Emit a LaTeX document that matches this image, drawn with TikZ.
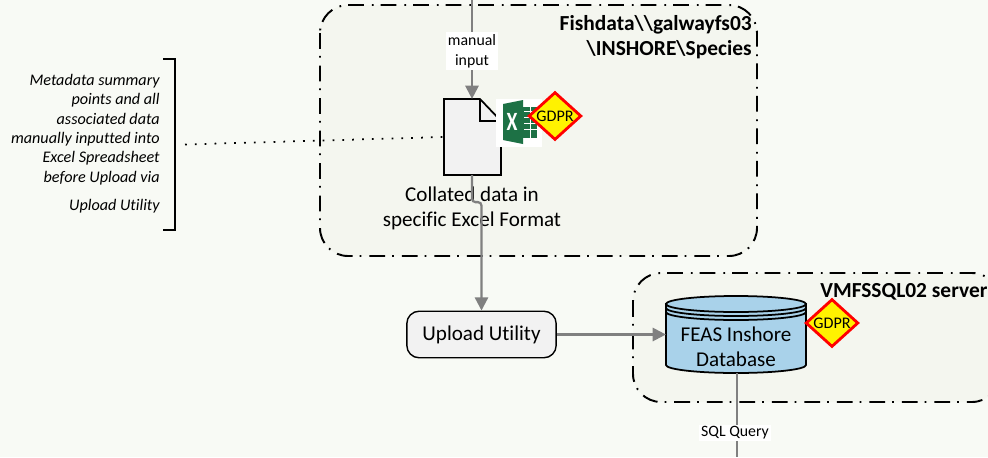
\documentclass[tikz,border=0pt]{standalone}
\usepackage{fontspec}
\setmainfont[Ligatures=NoCommon]{Carlito}
\usetikzlibrary{positioning,shapes.geometric,arrows.meta}
\definecolor{pagebg}{HTML}{F8FAF5}
\definecolor{groupbg}{HTML}{F4F6EF}
\definecolor{linegrey}{HTML}{808080}
\definecolor{paperfill}{HTML}{F2F2F2}
\definecolor{dbblue}{HTML}{A9D2EA}
\definecolor{xlgreen}{HTML}{1D7145}
\tikzset{
  flow/.style={draw=linegrey,line width=1.3pt,-{Triangle[length=7.5pt,width=7.5pt]}},
  plainflow/.style={draw=linegrey,line width=1.3pt},
  groupbox/.style={draw=black,line width=1.1pt,fill=groupbg,rounded corners=16pt,dash pattern=on 9pt off 4pt on 1pt off 4.5pt},
  gdpr/.style={diamond,draw=red,line width=1.6pt,fill=yellow,inner sep=0pt,minimum width=30pt,minimum height=22.5pt,font=\fontsize{9.2}{9}\selectfont},
  whitelabel/.style={fill=white,inner sep=1pt,align=center,font=\fontsize{9}{11.5}\selectfont},
  grouptitle/.style={font=\fontsize{12.2}{14}\selectfont\bfseries,align=right,inner sep=0pt},
}
\begin{document}
\begin{tikzpicture}[x=0.02cm,y=-0.02cm]
  % Page
  \fill[pagebg] (0,0) rectangle (988,457);
  \useasboundingbox (0,0) rectangle (988,457);

  % Groups
  \draw[groupbox] (320,5) rectangle (757,256);
  \draw[groupbox] (633,273) rectangle (1000,402);
  \node[grouptitle,anchor=north east] (fishtitle) at (752,15.5) {Fishdata\textbackslash\textbackslash galwayfs03\\\textbackslash INSHORE\textbackslash Species};
  \node[grouptitle,anchor=west] (servertitle) at (820,292) {VMFSSQL02 server};

  % Note on the left
  \draw[line width=1pt] (163,59) -- (175,59) -- (175,230) -- (163,230);
  \node[anchor=north east,align=right,inner sep=0pt,font=\fontsize{9.2}{11}\selectfont\itshape] (note) at (160,74)
    {Metadata summary\\points and all\\associated data\\manually inputted into\\Excel Spreadsheet\\before Upload via\\[5pt]Upload Utility};
  \coordinate (notelink) at (185,144.5);

  % Collated file
  \node[minimum width=32pt,minimum height=43pt,inner sep=0pt] (file) at (472,137) {};
  \draw[line width=1pt,fill=paperfill] (444,99) -- (480,99) -- (501,121) -- (501,175) -- (444,175) -- cycle;
  \draw[line width=1pt] (480,99) -- (480,121) -- (501,121);
  \node[align=center,inner sep=0pt,font=\fontsize{12}{14}\selectfont,below=6.7pt of file] (filetext) {Collated data in\\specific Excel Format};

  % Excel icon
  \fill[white] (496,99) rectangle (542,147);
  \fill[xlgreen] (503,104) -- (523,100) -- (523,144) -- (503,140) -- cycle;
  \fill[xlgreen] (523,107) rectangle (537,138);
  \foreach \y in {111,117,123,129} \draw[white,line width=0.5pt] (524,\y) -- (537,\y);
  \draw[white,line width=0.5pt] (530,107) -- (530,138);
  \node[white,font=\fontsize{15}{15}\selectfont\bfseries,inner sep=0pt,xscale=0.75,transform shape] (xlmark) at (512,122) {X};
  \node[gdpr] (filegdpr) at (555,116) {GDPR};

  % Upload and database
  \node[draw=black,line width=0.8pt,fill=paperfill,rounded corners=7pt,minimum width=85pt,minimum height=26.5pt,inner sep=0pt,font=\fontsize{12}{12}\selectfont] (upload) at (481.5,334.5) {\raisebox{-1pt}{Upload Utility}};
  \draw[line width=1pt,fill=dbblue] (666,304) -- (666,365) arc[start angle=180,end angle=0,x radius=70,y radius=8] -- (806,304) -- cycle;
  \draw[line width=1pt,fill=dbblue] (736,304) ellipse[x radius=70,y radius=8];
  \draw[line width=1pt] (666,308) arc[start angle=180,end angle=0,x radius=70,y radius=8];
  \draw[line width=1pt] (666,312) arc[start angle=180,end angle=0,x radius=70,y radius=8];
  \node[align=center,minimum width=79.4pt,minimum height=43pt,inner sep=0pt,font=\fontsize{12}{14.5}\selectfont] (feasdb) at (736,347) {FEAS Inshore\\Database};
  \node[gdpr] (dbgdpr) at (832,323) {GDPR};

  % Free ends
  \coordinate (topin) at (472,0);
  \coordinate (botout) at (737,457);

  % Connectors
  \draw[flow] (topin) -- (file.north);
  \node[whitelabel] (manual) at (472,51) {manual\\input};
  \draw[flow,rounded corners=2pt] (file.south) -- ++(0,27) -| (upload.north);
  \draw[flow] (upload.east) -- (upload.east -| feasdb.west);
  \draw[plainflow] (737,373) -- (botout);
  \node[whitelabel] (sqlquery) at (735,433) {SQL Query};
  \draw[line width=1pt,dash pattern=on 1pt off 4.6pt] (notelink) -- (file.west);
\end{tikzpicture}
\end{document}
